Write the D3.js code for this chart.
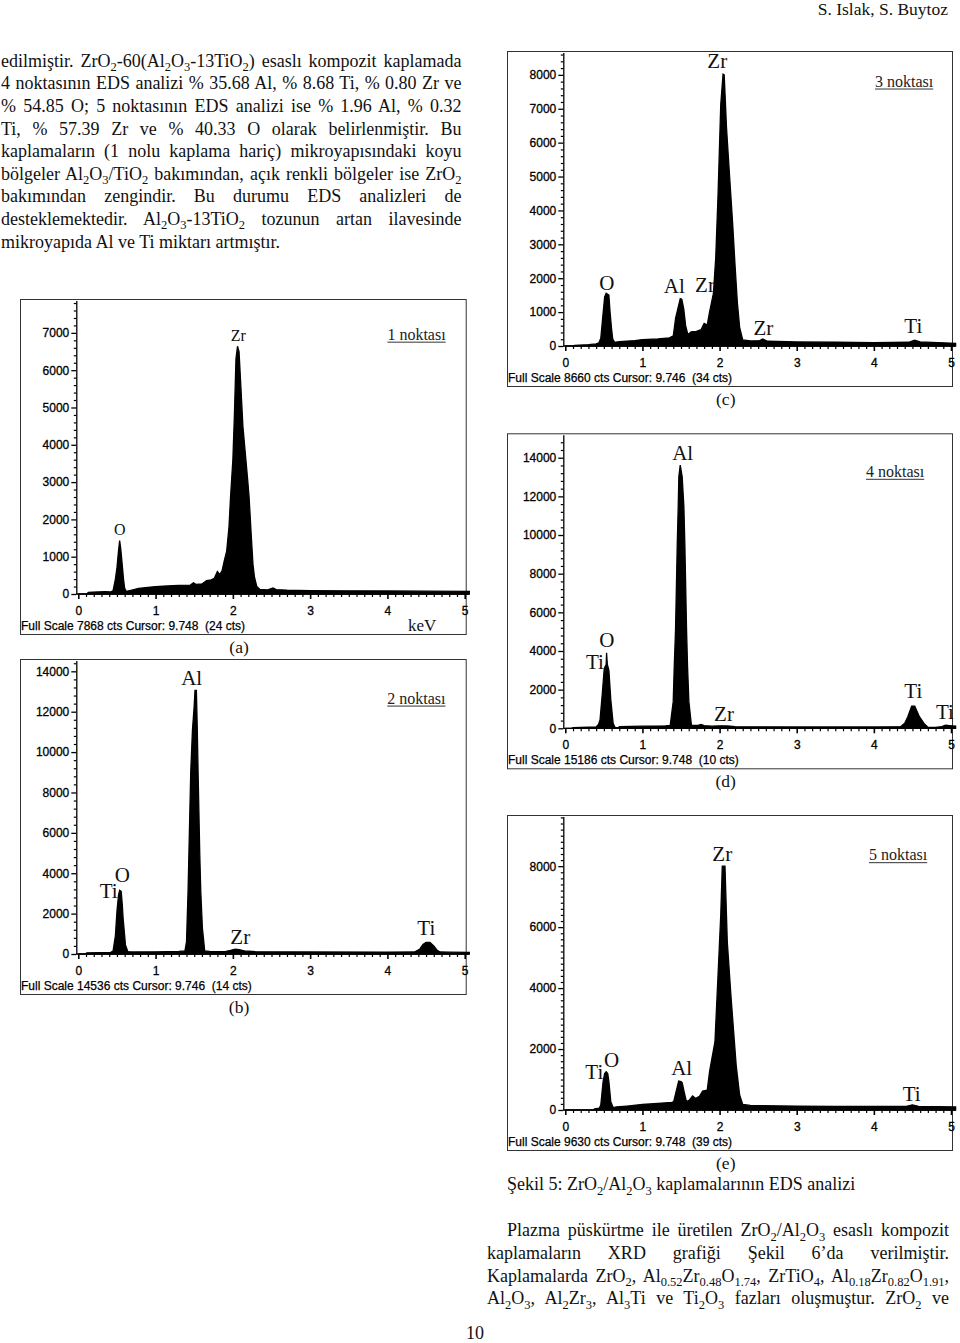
<!DOCTYPE html>
<html>
<head>
<meta charset="utf-8">
<script src="https://cdn.jsdelivr.net/npm/d3@7"></script>
<style>
    body { margin: 0; background: #fff; }
    svg { display: block; }
</style>
</head>
<body>
<script>
// spectra, [keV, counts]
var spectrum1 = [
    [0.00, 0], [0.11, 0], [0.13, 45], [0.25, 55], [0.35, 60], [0.42, 55],
    [0.45, 90], [0.48, 400], [0.50, 700], [0.52, 1150], [0.535, 1430], [0.55, 1200],
    [0.57, 750], [0.585, 400], [0.60, 150], [0.62, 70], [0.68, 100], [0.78, 150],
    [0.90, 180], [1.00, 200], [1.15, 215], [1.30, 230], [1.45, 240], [1.49, 300],
    [1.52, 260], [1.60, 270], [1.66, 360], [1.72, 380], [1.76, 420], [1.80, 600],
    [1.83, 520], [1.86, 620], [1.89, 900], [1.92, 1150], [1.95, 1800], [1.97, 2600],
    [2.00, 3600], [2.02, 4800], [2.04, 6300], [2.06, 6640], [2.08, 6500], [2.10, 5700],
    [2.13, 4500], [2.16, 3800], [2.19, 3100], [2.21, 2600], [2.24, 1500], [2.26, 800],
    [2.28, 450], [2.31, 200], [2.35, 120], [2.45, 110], [2.52, 160], [2.56, 120],
    [2.70, 100], [3.00, 90], [3.50, 85], [4.00, 80], [4.50, 75], [5.06, 70]
];
var spectrum2 = [
    [0.00, 0], [0.09, 0], [0.11, 60], [0.30, 70], [0.42, 80], [0.45, 150],
    [0.48, 900], [0.50, 2100], [0.52, 2900], [0.535, 3150], [0.555, 3100], [0.57, 2400],
    [0.58, 1750], [0.60, 900], [0.61, 450], [0.64, 120], [0.70, 100], [1.00, 110],
    [1.30, 130], [1.38, 150], [1.40, 600], [1.42, 3080], [1.455, 9020], [1.477, 11080],
    [1.50, 12300], [1.51, 13060], [1.528, 13060], [1.54, 11080], [1.55, 9020], [1.572, 4900],
    [1.585, 3080], [1.606, 1270], [1.636, 150], [1.70, 130], [1.90, 120], [1.97, 180],
    [2.03, 240], [2.08, 220], [2.15, 150], [2.30, 110], [3.00, 100], [4.00, 95],
    [4.35, 100], [4.42, 250], [4.46, 470], [4.50, 580], [4.55, 570], [4.60, 400],
    [4.64, 200], [4.68, 100], [4.80, 90], [5.06, 85]
];
var spectrum3 = [
    [0.00, 0], [0.10, 0], [0.12, 20], [0.30, 40], [0.40, 60], [0.435, 90],
    [0.46, 230], [0.48, 720], [0.51, 1450], [0.53, 1555], [0.565, 1500], [0.58, 1010],
    [0.60, 500], [0.615, 200], [0.64, 110], [0.70, 130], [0.90, 160], [1.00, 190],
    [1.20, 210], [1.35, 240], [1.40, 300], [1.43, 820], [1.46, 1110], [1.49, 1400],
    [1.51, 1380], [1.535, 1100], [1.56, 600], [1.59, 330], [1.63, 420], [1.70, 430],
    [1.76, 480], [1.80, 670], [1.84, 620], [1.87, 1000], [1.92, 1550], [1.95, 2600],
    [1.98, 4460], [2.015, 7120], [2.045, 8020], [2.06, 8000], [2.09, 6430], [2.13, 5000],
    [2.17, 3600], [2.20, 2400], [2.23, 1300], [2.26, 550], [2.30, 180], [2.40, 150],
    [2.52, 160], [2.56, 210], [2.62, 140], [3.00, 120], [3.50, 110], [4.00, 100],
    [4.45, 110], [4.53, 170], [4.60, 120], [5.06, 80]
];
var spectrum4 = [
    [0.00, 0], [0.08, 0], [0.10, 40], [0.30, 60], [0.40, 70], [0.43, 200],
    [0.45, 430], [0.48, 1810], [0.505, 3100], [0.53, 3300], [0.535, 3910], [0.545, 3300],
    [0.565, 3000], [0.59, 1470], [0.62, 260], [0.645, 40], [0.69, 30], [0.70, 90],
    [1.00, 110], [1.30, 130], [1.36, 150], [1.399, 1380], [1.412, 3190], [1.429, 5090],
    [1.451, 9480], [1.464, 11500], [1.472, 13020], [1.49, 13620], [1.515, 13020], [1.537, 11500],
    [1.55, 9480], [1.572, 5090], [1.585, 3190], [1.602, 1380], [1.635, 150], [1.72, 150],
    [1.76, 200], [1.80, 140], [1.90, 110], [2.00, 130], [2.10, 120], [2.20, 80],
    [3.00, 70], [4.00, 70], [4.35, 90], [4.40, 260], [4.44, 600], [4.49, 1150],
    [4.53, 1150], [4.59, 600], [4.65, 250], [4.70, 60], [4.80, 50], [4.88, 90],
    [4.93, 160], [4.98, 140], [5.06, 110]
];
var spectrum5 = [
    [0.00, 0], [0.36, 0], [0.38, 40], [0.44, 60], [0.46, 164], [0.49, 930],
    [0.51, 1200], [0.53, 1257], [0.55, 1200], [0.565, 930], [0.59, 273], [0.62, 80],
    [0.66, 100], [0.80, 130], [1.00, 180], [1.20, 220], [1.38, 250], [1.405, 273],
    [1.44, 640], [1.47, 950], [1.50, 930], [1.515, 900], [1.54, 600], [1.57, 273],
    [1.61, 330], [1.65, 460], [1.69, 380], [1.74, 450], [1.78, 620], [1.84, 650],
    [1.87, 1257], [1.94, 2240], [1.98, 4430], [2.015, 6390], [2.035, 8000], [2.07, 8000],
    [2.10, 5520], [2.15, 3660], [2.215, 1475], [2.26, 490], [2.30, 180], [2.40, 150],
    [2.55, 140], [3.00, 130], [3.50, 120], [4.00, 115], [4.42, 120], [4.50, 170],
    [4.58, 120], [5.06, 100]
];

var fullScales = [7868, 14536, 8660, 15186, 9630];
var keVTicks = [0, 1, 2, 3, 4, 5];
var footers = [
    'Full Scale 7868 cts Cursor: 9.748  (24 cts)',
    'Full Scale 14536 cts Cursor: 9.746  (14 cts)',
    'Full Scale 8660 cts Cursor: 9.746  (34 cts)',
    'Full Scale 15186 cts Cursor: 9.748  (10 cts)',
    'Full Scale 9630 cts Cursor: 9.748  (39 cts)'
];

// peak labels: [text, keV, counts] at the label's centre/baseline
var labels1 = [['Zr', 2.07, 6790], ['O', 0.536, 1590]];
var labels2 = [['Al', 1.467, 13342], ['O', 0.569, 3577], ['Ti', 0.393, 2755], ['Zr', 2.096, 480], ['Ti', 4.503, 940]];
var labels3 = [['Zr', 1.97, 8217], ['O', 0.537, 1653], ['Al', 1.413, 1556], ['Zr', 1.811, 1603], ['Zr', 2.567, 325], ['Ti', 4.511, 375]];
var labels4 = [['Al', 1.522, 13876], ['O', 0.537, 4189], ['Ti', 0.385, 3067], ['Zr', 2.057, 378], ['Ti', 4.511, 1583], ['Ti', 4.922, 465]];
var labels5 = [['Zr', 2.035, 8164], ['Ti', 0.376, 1007], ['O', 0.601, 1400], ['Al', 1.509, 1148], ['Ti', 4.491, 295]];
// point tags: [text, keV at start, counts at baseline]
var tags = [['1 noktası', 4.0, 6818], ['2 noktası', 3.998, 12402], ['3 noktası', 4.015, 7656], ['4 noktası', 3.898, 13013], ['5 noktası', 3.937, 8197]];
var captions = ['(a)', '(b)', '(c)', '(d)', '(e)'];

var topParagraph = [
    'edilmiştir. ZrO_2-60(Al_2O_3-13TiO_2) esaslı kompozit kaplamada',
    '4 noktasının EDS analizi % 35.68 Al, % 8.68 Ti, % 0.80 Zr ve',
    '% 54.85 O; 5 noktasının EDS analizi ise % 1.96 Al, % 0.32',
    'Ti, % 57.39 Zr ve % 40.33 O olarak belirlenmiştir. Bu',
    'kaplamaların (1 nolu kaplama hariç) mikroyapısındaki koyu',
    'bölgeler Al_2O_3/TiO_2 bakımından, açık renkli bölgeler ise ZrO_2',
    'bakımından zengindir. Bu durumu EDS analizleri de',
    'desteklemektedir. Al_2O_3-13TiO_2 tozunun artan ilavesinde',
    'mikroyapıda Al ve Ti miktarı artmıştır.'
];
var bottomParagraph = [
    'Plazma püskürtme ile üretilen ZrO_2/Al_2O_3 esaslı kompozit',
    'kaplamaların XRD grafiği Şekil 6’da verilmiştir.',
    'Kaplamalarda ZrO_2, Al_0.52Zr_0.48O_1.74, ZrTiO_4, Al_0.18Zr_0.82O_1.91,',
    'Al_2O_3, Al_2Zr_3, Al_3Ti ve Ti_2O_3 fazları oluşmuştur. ZrO_2 ve'
];
var figureTitle = 'Şekil 5: ZrO_2/Al_2O_3 kaplamalarının EDS analizi';

var EdsFig = EdsFig || {};
EdsFig.serif = '"Liberation Serif", "Times New Roman", serif';
EdsFig.sans = '"Liberation Sans", Arial, sans-serif';
EdsFig.plotHeight = 293.5;
EdsFig.bodySize = 18;

var svg = d3.select( 'body' ).append( 'svg' )
    .attr( 'width', 960 )
    .attr( 'height', 1343 );

EdsFig.richText = function ( sel, str, subSize ) {
    var parts = str.split( /(_[0-9.]+)/ ),
        shifted = false;
    parts.forEach( function ( part ) {
        if ( !part ) return;
        if ( part[0] === '_' ) {
            sel.append( 'tspan' ).attr( 'font-size', subSize ).attr( 'dy', shifted ? 0 : 4.5 ).text( part.slice( 1 ) );
            shifted = true;
        } else {
            sel.append( 'tspan' ).attr( 'dy', shifted ? -4.5 : 0 ).text( part );
            shifted = false;
        }
    } );
    return sel;
};

EdsFig.justify = function ( sel, width ) {
    var len = sel.node().getComputedTextLength(),
        spaces = ( sel.text().match( / /g ) || [] ).length;
    if ( spaces ) sel.attr( 'word-spacing', ( width - len ) / spaces );
};

EdsFig.bodyText = function ( x, y ) {
    return svg.append( 'text' )
        .attr( 'x', x )
        .attr( 'y', y )
        .attr( 'font-family', EdsFig.serif )
        .attr( 'font-size', EdsFig.bodySize )
        .attr( 'fill', '#111' );
};

EdsFig.paragraph = function ( lines, x, firstX, right, y, step, justifyLast ) {
    lines.forEach( function ( line, i ) {
        var lx = i === 0 ? firstX : x,
            t = EdsFig.bodyText( lx, y + i * step );
        EdsFig.richText( t, line, 12.5 );
        if ( i < lines.length - 1 || justifyLast ) {
            EdsFig.justify( t, right - lx );
        }
    } );
};

EdsFig.drawPanel = function ( p ) {
    var g = svg.append( 'g' ),
        x = d3.scaleLinear().domain( [0, 5] ).range( [p.x0, p.x5] ),
        y = d3.scaleLinear().domain( [0, p.fullScale] ).range( [p.y0, p.y0 - EdsFig.plotHeight] ),
        top = y( p.fullScale ),
        frameL = p.x0 - 57.8,
        frameR = p.x5 + 1.5;

    g.append( 'rect' )
        .attr( 'x', frameL )
        .attr( 'y', top - 1 )
        .attr( 'width', frameR - frameL )
        .attr( 'height', p.y0 + 40.5 - ( top - 1 ) )
        .attr( 'fill', 'none' )
        .attr( 'stroke', '#333' )
        .attr( 'stroke-width', 1 );

    var area = d3.area()
        .x( function ( d ) { return x( d[0] ); } )
        .y0( p.y0 )
        .y1( function ( d ) { return y( d[1] ); } );
    g.append( 'path' )
        .datum( p.data )
        .attr( 'd', area )
        .attr( 'fill', '#000' )
        .attr( 'stroke', '#000' )
        .attr( 'stroke-width', 1.3 )
        .attr( 'stroke-linejoin', 'miter' );

    // y axis
    var yMajor = d3.range( 0, p.fullScale, p.yStep ),
        yMinor = d3.range( 0, p.fullScale, p.yMinorStep ).filter( function ( v ) { return v % p.yStep !== 0; } );
    var ya = g.append( 'g' )
        .attr( 'transform', 'translate(' + ( p.x0 - 2 ) + ',0)' )
        .call( d3.axisLeft( y ).tickValues( yMajor ).tickSize( 5 ).tickSizeOuter( 0 ).tickPadding( 2 ).tickFormat( d3.format( 'd' ) ) );
    ya.select( '.domain' ).attr( 'stroke', '#000' ).attr( 'stroke-width', 1.3 );
    ya.selectAll( '.tick line' ).attr( 'stroke-width', 1.3 );
    ya.selectAll( 'text' )
        .attr( 'font-family', EdsFig.sans ).attr( 'font-size', 12 )
        .attr( 'fill', '#000' ).attr( 'stroke', '#000' ).attr( 'stroke-width', 0.3 );
    var ym = g.append( 'g' )
        .attr( 'transform', 'translate(' + ( p.x0 - 2 ) + ',0)' )
        .call( d3.axisLeft( y ).tickValues( yMinor ).tickSize( 2.5 ).tickFormat( '' ) );
    ym.select( '.domain' ).remove();
    ym.selectAll( '.tick line' ).attr( 'stroke-width', 1.2 );

    // x axis
    var xMinor = d3.range( 1, 51 ).filter( function ( i ) { return i % 10 !== 0; } ).map( function ( i ) { return i / 10; } );
    var xa = g.append( 'g' )
        .attr( 'transform', 'translate(0,' + p.y0 + ')' )
        .call( d3.axisBottom( x ).tickValues( keVTicks ).tickSize( 5 ).tickSizeOuter( 0 ).tickPadding( 7 ).tickFormat( d3.format( 'd' ) ) );
    xa.select( '.domain' ).remove();
    xa.selectAll( '.tick line' ).attr( 'stroke-width', 1.6 );
    xa.selectAll( 'text' )
        .attr( 'font-family', EdsFig.sans ).attr( 'font-size', 12 )
        .attr( 'fill', '#000' ).attr( 'stroke', '#000' ).attr( 'stroke-width', 0.3 );
    var xm = g.append( 'g' )
        .attr( 'transform', 'translate(0,' + p.y0 + ')' )
        .call( d3.axisBottom( x ).tickValues( xMinor ).tickSize( 3 ).tickFormat( '' ) );
    xm.select( '.domain' ).remove();
    xm.selectAll( '.tick line' ).attr( 'stroke-width', 1.2 );
    g.append( 'line' )
        .attr( 'x1', p.x0 - 2 ).attr( 'x2', x( 5.06 ) )
        .attr( 'y1', p.y0 ).attr( 'y2', p.y0 )
        .attr( 'stroke', '#000' ).attr( 'stroke-width', 1.3 );

    // peak labels
    g.selectAll( 'text.peak' )
        .data( p.labels )
        .enter().append( 'text' )
        .attr( 'class', 'peak' )
        .attr( 'x', function ( d ) { return x( d[1] ); } )
        .attr( 'y', function ( d ) { return y( d[2] ); } )
        .attr( 'text-anchor', 'middle' )
        .attr( 'font-family', EdsFig.serif )
        .attr( 'font-size', p.labelSize )
        .attr( 'fill', '#111' )
        .text( function ( d ) { return d[0]; } );

    var tag = g.append( 'text' )
        .attr( 'x', x( p.tag[1] ) )
        .attr( 'y', y( p.tag[2] ) )
        .attr( 'font-family', EdsFig.serif )
        .attr( 'font-size', 16 )
        .attr( 'fill', '#222' )
        .text( p.tag[0] );
    var tw = tag.node().getComputedTextLength();
    g.append( 'line' )
        .attr( 'x1', x( p.tag[1] ) ).attr( 'x2', x( p.tag[1] ) + tw )
        .attr( 'y1', y( p.tag[2] ) + 2.5 ).attr( 'y2', y( p.tag[2] ) + 2.5 )
        .attr( 'stroke', '#333' ).attr( 'stroke-width', 1 );

    g.append( 'text' )
        .attr( 'x', frameL + 0.5 )
        .attr( 'y', p.y0 + 35.5 )
        .attr( 'font-family', EdsFig.sans )
        .attr( 'font-size', 12 )
        .attr( 'fill', '#000' )
        .attr( 'stroke', '#000' )
        .attr( 'stroke-width', 0.25 )
        .style( 'white-space', 'pre' )
        .text( p.footer );

    if ( p.kev ) {
        g.append( 'text' )
            .attr( 'x', x( 4.45 ) )
            .attr( 'y', p.y0 + 37 )
            .attr( 'text-anchor', 'middle' )
            .attr( 'font-family', EdsFig.serif )
            .attr( 'font-size', 17 )
            .attr( 'fill', '#111' )
            .text( 'keV' );
    }

    g.append( 'text' )
        .attr( 'x', x( 2.08 ) )
        .attr( 'y', p.y0 + 59 )
        .attr( 'text-anchor', 'middle' )
        .attr( 'font-family', EdsFig.serif )
        .attr( 'font-size', 17.5 )
        .attr( 'fill', '#111' )
        .text( p.caption );
};

var panels = [
    { data: spectrum1, labels: labels1, x0: 78.3, x5: 464.7, y0: 594, yStep: 1000, yMinorStep: 200, labelSize: 16, kev: true },
    { data: spectrum2, labels: labels2, x0: 78.3, x5: 464.7, y0: 954, yStep: 2000, yMinorStep: 400, labelSize: 21 },
    { data: spectrum3, labels: labels3, x0: 565.3, x5: 951, y0: 346, yStep: 1000, yMinorStep: 200, labelSize: 21 },
    { data: spectrum4, labels: labels4, x0: 565.3, x5: 951, y0: 728.3, yStep: 2000, yMinorStep: 400, labelSize: 21 },
    { data: spectrum5, labels: labels5, x0: 565.3, x5: 951, y0: 1110, yStep: 2000, yMinorStep: 200, labelSize: 21 }
];
panels.forEach( function ( p, i ) {
    p.fullScale = fullScales[i];
    p.footer = footers[i];
    p.tag = tags[i];
    p.caption = captions[i];
    EdsFig.drawPanel( p );
} );

// page text
EdsFig.bodyText( 948, 15 )
    .attr( 'text-anchor', 'end' )
    .attr( 'font-size', 17.5 )
    .text( 'S. Islak, S. Buytoz' );

EdsFig.paragraph( topParagraph, 1, 1, 461.5, 66.7, 22.6, false );

EdsFig.richText( EdsFig.bodyText( 507, 1190 ), figureTitle, 12.5 );

EdsFig.paragraph( bottomParagraph, 487, 507, 949, 1236, 22.75, true );

EdsFig.bodyText( 475, 1339 )
    .attr( 'text-anchor', 'middle' )
    .text( '10' );
</script>
</body>
</html>
